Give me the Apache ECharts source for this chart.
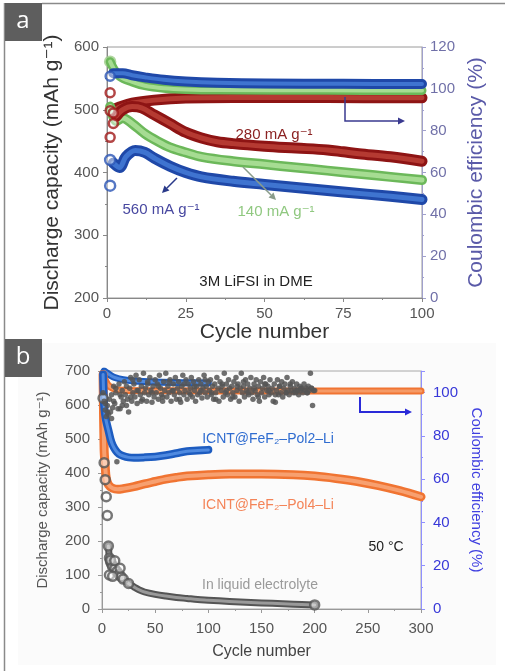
<!DOCTYPE html>
<html>
<head>
<meta charset="utf-8">
<script src="https://cdn.jsdelivr.net/npm/echarts@6/dist/echarts.min.js"></script>
<style>
html,body{margin:0;padding:0;background:#fff;}
#c{width:505px;height:671px;}
</style>
</head>
<body>
<div id="c"></div>
<script>
// ---------------- Panel a data (cycle, value) ----------------
const aXTicks = [0, 25, 50, 75, 100];
const aRedCap = [[3,490],[5,500],[8,505],[11,503],[15,492],[20,478],[25,464],[30,455],[35,449],[40,446],[50,442],[60,439],[70,436],[75,433],[80,430],[90,425],[100,418]];
const aRedCapEarly = [[1,527],[2,478],[1,456],[2,495]];
const aGreenCap = [[1,505],[3,482],[5,487],[8,478],[12,462],[16,450],[20,440],[25,432],[30,425],[40,418],[50,413],[60,408],[70,403],[80,398],[90,393],[100,388]];
const aBlueCap = [[2,415],[4,408],[6,425],[9,435],[12,432],[15,423],[20,410],[25,400],[30,393],[40,386],[50,381],[60,376],[75,369],[90,362],[100,357]];
const aBlueCapEarly = [[1,379],[1,420]];
const aRedCE = [[2,90],[4,91.3],[8,93.2],[15,94.6],[25,95.6],[40,95.9],[70,95.8],[100,95.7]];
const aRedCEEarly = [[1,89.5]];
const aGreenCE = [[1,113],[2,110],[4,106],[8,103.3],[12,101.5],[18,100.3],[25,99.7],[35,99.4],[70,99.3],[100,99.2]];
const aBlueCE = [[2,107.5],[5,107.5],[8,106.5],[12,105.5],[18,104.3],[25,103.5],[35,102.9],[50,102.5],[75,102.4],[100,102.3]];
const aBlueCEEarly = [[1,106]];

// ---------------- Panel b data (cycle, value) ----------------
const bGrayCap = [[1,620],[2,430],[3,380],[4,330],[5,275],[6,185],[7,150],[8,140],[9,132],[10,125],[12,118],[14,110],[16,102],[18,95],[20,88],[25,75],[30,65],[35,56],[40,50],[50,43],[60,38],[70,34],[80,31],[90,28],[100,26],[120,22],[140,19],[160,17],[180,14],[200,12]];
const bGrayCapExtra = [[8,144],[12,142],[17,120],[7,100],[10,96]];
const bBlueCap = [[1,690],[2,600],[3,570],[4,552],[6,526],[8,500],[10,482],[13,466],[16,456],[20,450],[25,446],[30,445],[40,446],[50,448],[60,452],[70,458],[80,464],[90,466],[100,468]];
const bOrangeCap = [[1,690],[2,470],[3,420],[4,385],[6,366],[10,355],[15,352],[20,354],[30,360],[40,368],[50,375],[60,382],[70,387],[80,391],[100,395],[120,397],[150,397],[180,395],[200,391],[220,384],[240,375],[260,363],[280,348],[300,330]];
const bOrangeCE = [[1,109],[3,106],[5,104],[8,102.5],[12,101.6],[20,101.1],[40,100.9],[100,100.8],[200,100.8],[300,100.8]];
const bBlueCE = [[2,110],[5,109],[8,108],[12,107],[20,106],[30,105.4],[50,104.9],[75,104.6],[100,104.5]];
// gray (liquid electrolyte) coulombic efficiency, one value per cycle 1..200
const bGrayCE = [
 100,96,92,89,94,90,97,91,99,93,103,95,100,68,92.6,104,92.5,98,101,96,
 105,99,94,97,91,102,107,96,100,104,98,108,95,101,106,99,103,97,109,100,
 102,96,105,99,107,101,95.5,103,98,106,100,104,97,108,102,99,96,105,101,109,
 98,103,100,106,96,101,104,99,107,97,102,105,100,95.5,103,108,99,101,106,97,
 104,100,102,107,98,105,101,96,103,99,106,100,104,97.5,102,108,100,103,98,105,
 101,106,99,103,97,104,100,107,102,96,105,101,103,98,109,100,104,99,106,102,
 97,103,100,105,98,107,101,104,96,102,109,100,103,98,106,101,104,99,102,107,
 100,97,104,101,106,99,103,96,105,100,102,107,98,104,101,103,99,106,100,102,
 96,104,95.5,101,106,99,103,100,105,98,102,104,100,107,101,99,103,101,105,100,
 102,100,104,101,99,103,101,102,100,104,101,102,100,103,101,109,102,94,101,101
];
const bGrayCE2 = [
 [3,95],[5,91],[9,88],[11,96],[13,102],[17,99],[19,94],[23,103],[27,98],[29,106],
 [33,101],[37,96],[43,104],[47,100],[53,103],[57,98],[63,105],[67,101],[73,97],[77,104],
 [83,99],[87,103],[93,101],[97,106],[103,100],[107,97],[113,104],[117,101],[123,98],[127,103],
 [133,105],[137,100],[143,102],[147,98],[153,104],[157,101],[163,99],[167,103],[173,100],[177,104],
 [183,101],[187,102],[193,100],[197,102]
];

// ---------------- helpers ----------------
const FONT = '"Liberation Sans", Arial, "DejaVu Sans", sans-serif';
function band(name, data, xi, yi, outer, inner, wOut, wIn, z) {
  return [
    {name:name, type:'line', xAxisIndex:xi, yAxisIndex:yi, data:data, showSymbol:false, smooth:0.35,
     lineStyle:{color:outer, width:wOut, cap:'round', join:'round'}, z:z, silent:true},
    {name:name+'_c', type:'line', xAxisIndex:xi, yAxisIndex:yi, data:data, showSymbol:false, smooth:0.35,
     lineStyle:{color:inner, width:wIn, cap:'round', join:'round'}, z:z, silent:true}
  ];
}
function rings(name, data, xi, yi, color, size, z) {
  return {name:name, type:'scatter', xAxisIndex:xi, yAxisIndex:yi, data:data, symbol:'circle', symbolSize:size,
    itemStyle:{color:'rgba(255,255,255,0.6)', borderColor:color, borderWidth:2.5}, z:z, silent:true};
}
function arrow(pts, color, lw, hl, hw) {
  const n = pts.length, p1 = pts[n-2], p2 = pts[n-1];
  const dx = p2[0]-p1[0], dy = p2[1]-p1[1], L = Math.hypot(dx,dy);
  const ux = dx/L, uy = dy/L, px = -uy, py = ux;
  const b = [p2[0]-ux*hl, p2[1]-uy*hl];
  const shaft = pts.slice(0, n-1).concat([b]);
  return [
    {type:'polyline', shape:{points:shaft}, style:{stroke:color, lineWidth:lw, fill:null}, z:50},
    {type:'polygon', shape:{points:[p2,[b[0]+px*hw,b[1]+py*hw],[b[0]-px*hw,b[1]-py*hw]]}, style:{fill:color}, z:50}
  ];
}
function txt(x, y, s, color, size, align) {
  return {type:'text', x:x, y:y, z:60,
    style:{text:s, fill:color, font:'normal ' + size + 'px ' + FONT, textAlign:align||'left', textVerticalAlign:'middle'}};
}

const axisCommon = (lc, labc, fs, margin) => ({
  axisLine:{show:true, lineStyle:{color:lc, width:1}},
  axisTick:{show:true, inside:false, length:4, lineStyle:{color:lc}},
  minorTick:{show:true, splitNumber:2, length:2, lineStyle:{color:lc}},
  splitLine:{show:false},
  axisLabel:{color:labc, fontSize:fs, fontFamily:FONT, margin:margin}
});

const chart = echarts.init(document.getElementById('c'), null, {renderer:'canvas'});

const series = [].concat(
  // panel a CE bands (right axis)
  band('aRedCE', aRedCE, 0, 1, '#8e1414', '#b53a32', 11, 5, 3),
  band('aGreenCE', aGreenCE, 0, 1, '#6cb85a', '#a6dc92', 9, 4, 4),
  band('aBlueCE', aBlueCE, 0, 1, '#1f48a8', '#3f74d0', 10, 4, 5),
  [rings('aRedCEe', aRedCEEarly, 0, 1, '#9a1a1a', 9, 6),
   rings('aBlueCEe', aBlueCEEarly, 0, 1, '#2a55b5', 9, 6),
   rings('aGreenCEe', [aGreenCE[0]], 0, 1, '#9ccc88', 10, 3)],
  // panel a capacity bands (left axis)
  band('aBlueCap', aBlueCap, 0, 0, '#1f48a8', '#3f74d0', 11, 5, 3),
  band('aGreenCap', aGreenCap, 0, 0, '#6cb85a', '#a6dc92', 10, 5, 4),
  band('aRedCap', aRedCap, 0, 0, '#8e1414', '#b53a32', 11, 5, 5),
  [rings('aRedCapE', aRedCapEarly, 0, 0, '#a01818', 9, 6),
   rings('aBlueCapE', aBlueCapEarly, 0, 0, '#2a55b5', 10, 6)],
  // panel b
  band('bOrangeCE', bOrangeCE, 1, 3, '#f07432', '#f59a66', 7, 3, 3),
  band('bBlueCE', bBlueCE, 1, 3, '#1d5cc0', '#4f8ae0', 7, 3, 3),
  [{name:'bGrayCE', type:'scatter', xAxisIndex:1, yAxisIndex:3,
    data:bGrayCE.map((v,i)=>[i+1,v]).concat(bGrayCE2), symbol:'circle', symbolSize:5.5,
    itemStyle:{color:'#555555', opacity:0.85}, z:6, silent:true}],
  band('bOrangeCap', bOrangeCap, 1, 2, '#f07432', '#f7a070', 9, 4, 3),
  band('bBlueCap', bBlueCap, 1, 2, '#1d5cc0', '#4f8ae0', 8, 3, 3),
  band('bGrayCap', bGrayCap.slice(5), 1, 2, '#555555', '#9a9a9a', 7, 3, 3),
  [rings('bGrayCapR', bGrayCap.slice(0, 16).concat(bGrayCap.slice(-1)), 1, 2, '#555555', 9, 4),
   rings('bGrayCapX', bGrayCapExtra, 1, 2, '#555555', 9, 4)]
);

const graphics = [
  {type:'rect', shape:{x:18, y:343, width:478, height:322}, style:{fill:'#fbfbfb'}, z:-10},
  {type:'line', shape:{x1:4.5, y1:3, x2:4.5, y2:671}, style:{stroke:'#8a8a8a', lineWidth:1.5}, z:1},
  {type:'line', shape:{x1:42, y1:3.5, x2:505, y2:3.5}, style:{stroke:'#8a8a8a', lineWidth:1.5}, z:1},
  {type:'rect', shape:{x:5, y:3, width:37, height:38}, style:{fill:'#5e5e5e'}, z:20},
  {type:'text', x:23, y:21, z:21, style:{text:'a', fill:'#fff', font:'24px "Open Sans", sans-serif', textAlign:'center', textVerticalAlign:'middle'}},
  {type:'rect', shape:{x:5, y:339, width:37, height:38}, style:{fill:'#5e5e5e'}, z:20},
  {type:'text', x:23, y:357, z:21, style:{text:'b', fill:'#fff', font:'24px "Open Sans", sans-serif', textAlign:'center', textVerticalAlign:'middle'}},
  // panel a annotations
  txt(274, 135, '280 mA g⁻¹', '#8b2222', 15, 'center'),
  txt(161, 210, '560 mA g⁻¹', '#4848a0', 15, 'center'),
  txt(276, 212, '140 mA g⁻¹', '#90c880', 15, 'center'),
  txt(256, 282, '3M LiFSI in DME', '#222222', 15, 'center'),
  // panel b annotations
  txt(268, 439, 'ICNT@FeF₂–Pol2–Li', '#2f6cd0', 14, 'center'),
  txt(268, 505, 'ICNT@FeF₂–Pol4–Li', '#f48458', 14, 'center'),
  txt(386, 547, '50 °C', '#222222', 14, 'center'),
  txt(260, 585, 'In liquid electrolyte', '#9a9a9a', 14, 'center')
].concat(
  arrow([[345,97],[345,121],[405,121]], '#3a3a90', 1.5, 7, 3.5),
  arrow([[177,178],[162,193]], '#2a3a8a', 1.5, 7, 3.5),
  arrow([[243,167],[276,200]], '#8a9c8a', 1.5, 7, 3.5),
  arrow([[360,397],[360,412],[412,412]], '#2a2ad8', 2, 7, 3.5)
);

chart.setOption({
  animation:false,
  backgroundColor:'#ffffff',
  textStyle:{fontFamily:FONT},
  grid:[
    {left:107, top:47, width:315, height:251, show:true, borderColor:'#9a9a9a', borderWidth:1},
    {left:102, top:371, width:319, height:238, show:true, borderColor:'#a8a8a8', borderWidth:1}
  ],
  xAxis:[
    Object.assign({gridIndex:0, type:'value', min:aXTicks[0], max:aXTicks[aXTicks.length-1], interval:25,
      name:'Cycle number', nameLocation:'middle', nameGap:20,
      nameTextStyle:{fontSize:21, color:'#333', fontFamily:FONT}}, axisCommon('#888','#555',15,8)),
    Object.assign({gridIndex:1, type:'value', min:0, max:300, interval:50,
      name:'Cycle number', nameLocation:'middle', nameGap:35,
      nameTextStyle:{fontSize:16, color:'#444', fontFamily:FONT}}, axisCommon('#999','#555',15,12))
  ],
  yAxis:[
    Object.assign({gridIndex:0, type:'value', min:200, max:600, interval:100,
      name:'Discharge capacity (mAh g⁻¹)', nameLocation:'middle', nameGap:27, nameRotate:90,
      nameTextStyle:{fontSize:21, color:'#333', fontFamily:FONT}}, axisCommon('#888','#555',15,8)),
    Object.assign({gridIndex:0, type:'value', position:'right', min:0, max:120, interval:20,
      name:'Coulombic efficiency (%)', nameLocation:'middle', nameGap:26, nameRotate:90,
      nameTextStyle:{fontSize:21, color:'#5a5aa8', fontFamily:FONT}}, axisCommon('#a0a0cc','#7070a8',15,8)),
    Object.assign({gridIndex:1, type:'value', min:0, max:700, interval:100,
      name:'Discharge capacity (mAh g⁻¹)', nameLocation:'middle', nameGap:52, nameRotate:90,
      nameTextStyle:{fontSize:15, color:'#555', fontFamily:FONT}}, axisCommon('#999','#555',15,12)),
    Object.assign({gridIndex:1, type:'value', position:'right', min:0, max:110, interval:20,
      name:'Coulombic efficiency (%)', nameLocation:'middle', nameGap:46, nameRotate:-90,
      nameTextStyle:{fontSize:15, color:'#4040e0', fontFamily:FONT}}, axisCommon('#9090ff','#3838d8',15,12))
  ],
  series:series,
  graphic:graphics
});
// hide the 110 label on panel b right axis
chart.setOption({yAxis:[{},{},{},{axisLabel:{formatter:(v)=> (v % 20 === 0 ? String(v) : '')}}]});
</script>
</body>
</html>
